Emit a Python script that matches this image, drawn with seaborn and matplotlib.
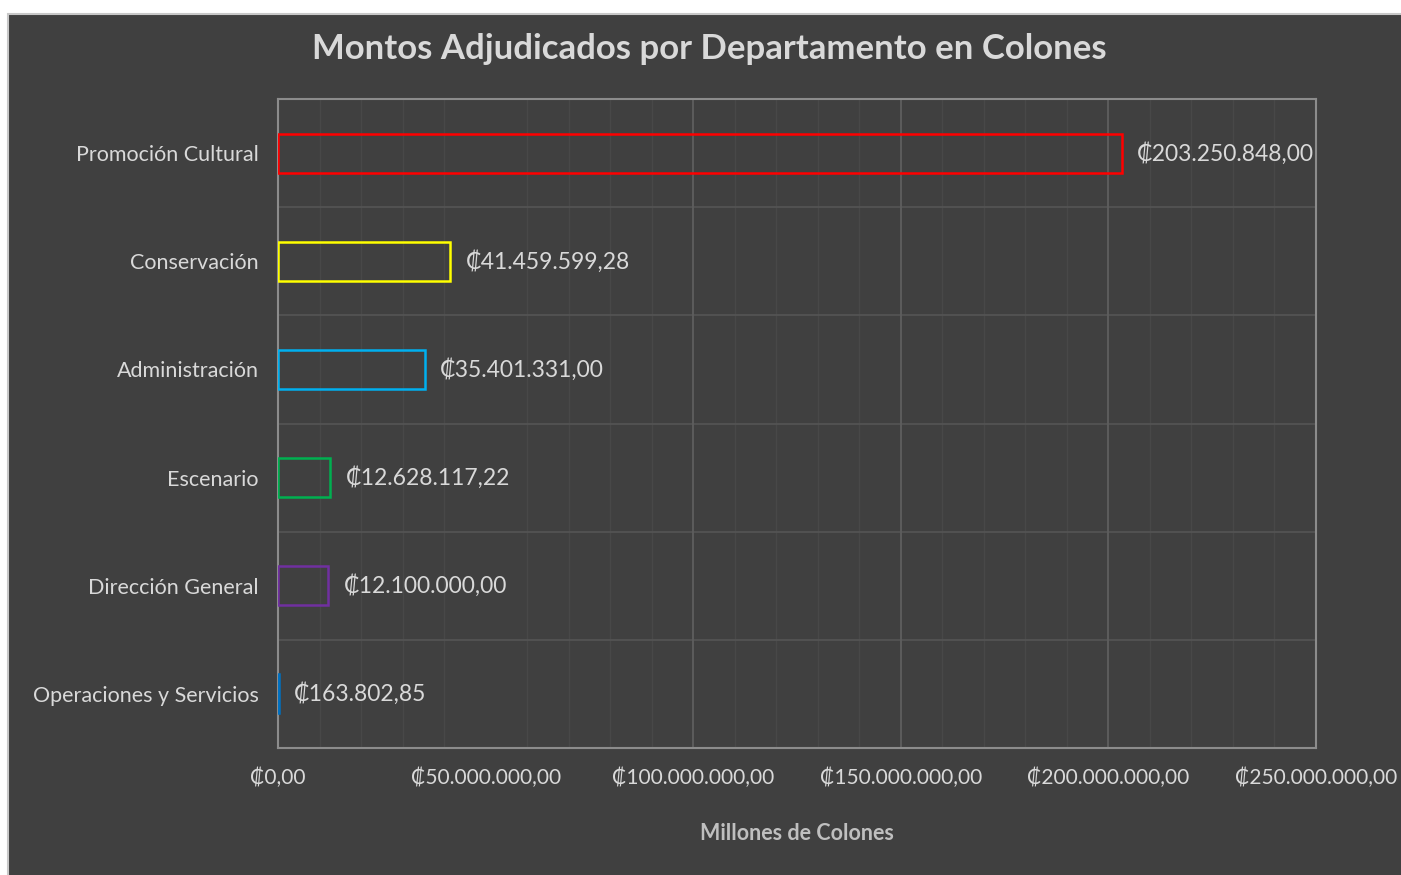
import matplotlib
matplotlib.use('Agg')
import matplotlib.pyplot as plt
import matplotlib.patches as mpatches
from matplotlib.ticker import FuncFormatter, MultipleLocator
import seaborn as sns
import pandas as pd

departamentos = ['Promoción Cultural', 'Conservación', 'Administración',
                 'Escenario', 'Dirección General', 'Operaciones y Servicios']
montos = [203250848.00, 41459599.28, 35401331.00, 12628117.22, 12100000.00, 163802.85]
colores = ['#FF0000', '#FFFF00', '#00B0F0', '#00B050', '#7030A0', '#0070C0']

BG = '#404040'
TXT = '#d9d9d9'


def colones(v, pos=None):
    s = '{:,.2f}'.format(v)
    s = s.replace(',', 'X').replace('.', ',').replace('X', '.')
    return '\u20a1' + s


sns.set_theme(style='dark')
plt.rcParams['font.family'] = ['Lato', 'DejaVu Sans']

df = pd.DataFrame({'Departamento': departamentos, 'Monto': montos})

fig = plt.figure(figsize=(14.01, 8.75), dpi=100)
fig.patch.set_facecolor('white')
# dark chart panel with light border
panel = mpatches.Rectangle((8 / 1401, -0.01), 1.0, (875 - 14) / 875 + 0.01,
                           transform=fig.transFigure, facecolor=BG,
                           edgecolor='#c8c8c8', linewidth=1.5, zorder=-10)
fig.patches.append(panel)

ax = fig.add_axes([278 / 1401, 1 - 748 / 875, (1316 - 278) / 1401, (748 - 99) / 875])
ax.set_facecolor(BG)

sns.barplot(data=df, y='Departamento', x='Monto', hue='Departamento',
            palette=colores, fill=False, width=0.36, linewidth=1.8,
            legend=False, ax=ax, orient='h')
for p in ax.patches:
    p.set_zorder(3)

xmax = 250000000
ax.set_xlim(0, xmax)
ax.set_ylim(5.5, -0.5)
ax.xaxis.set_major_locator(MultipleLocator(50000000))
ax.xaxis.set_minor_locator(MultipleLocator(10000000))
ax.xaxis.set_major_formatter(FuncFormatter(colones))
ax.set_yticks(range(len(departamentos)))
ax.set_yticklabels(departamentos)

# category boundaries as horizontal gridlines
ax.set_yticks([i + 0.5 for i in range(len(departamentos) - 1)], minor=True)
ax.grid(False)
ax.grid(which='minor', axis='x', color='#484848', linewidth=1.0)
ax.grid(which='minor', axis='y', color='#555555', linewidth=1.2)
# stronger vertical lines (the one at 50M is faint in the original)
for t in ax.get_xticks():
    if 50000000 < t < xmax:
        ax.axvline(t, color='#5e5e5e', linewidth=1.3, zorder=0.6)
ax.set_axisbelow(True)

ax.tick_params(axis='both', which='both', length=0)
ax.tick_params(axis='x', colors=TXT, labelsize=15, pad=14)
ax.tick_params(axis='y', colors=TXT, labelsize=15.5, pad=14)

for s in ax.spines.values():
    s.set_color('#8c8c8c')
    s.set_linewidth(1.5)

for i, v in enumerate(montos):
    ax.annotate(colones(v), xy=(v, i), xytext=(11, 0), textcoords='offset points',
                va='center', ha='left', color=TXT, fontsize=16.5)

ax.set_xlabel('Millones de Colones', color='#bfbfbf', fontsize=15.5,
              fontweight='bold', labelpad=25)
ax.set_ylabel('')
fig.suptitle('Montos Adjudicados por Departamento en Colones', x=0.506, y=0.962,
             color='#d9d9d9', fontsize=25, fontweight='bold')

fig.savefig('out.png', dpi=100, facecolor=fig.get_facecolor())
